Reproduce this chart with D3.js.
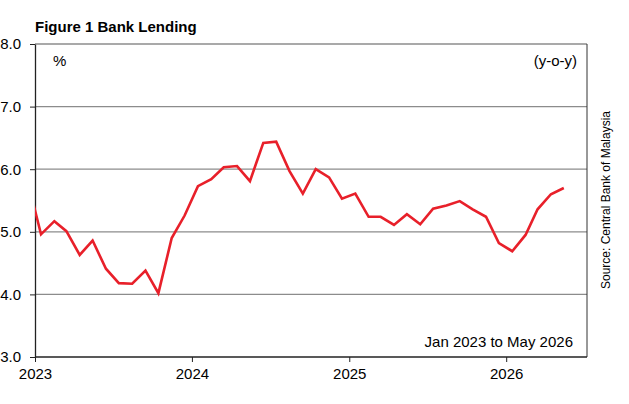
<!DOCTYPE html>
<html lang="en">
<head>
  <meta charset="UTF-8">
  <script src="https://d3js.org/d3.v7.min.js"></script>
  <style>
    body { margin: 0; background: #fff; font-family: "Liberation Sans", Arial, sans-serif; }
  </style>
</head>
<body>
  <svg width="629" height="404"></svg>
  <script>
    // monthly y-o-y growth, Dec 2022 .. May 2026 (plotted mid-month)
    const startMonth = new Date(2022, 11, 1);
    const values = [
      5.81,
      4.96, 5.17, 5.01, 4.63, 4.86, 4.41, 4.18, 4.17, 4.38, 4.02, 4.90, 5.26,
      5.73, 5.84, 6.03, 6.05, 5.81, 6.42, 6.44, 5.97, 5.61, 6.00, 5.87, 5.53,
      5.61, 5.24, 5.24, 5.11, 5.28, 5.12, 5.37, 5.42, 5.49, 5.36, 5.24, 4.82,
      4.69, 4.95, 5.36, 5.60, 5.70
    ];
    const yTicks = [3, 4, 5, 6, 7, 8];
    const yearTicks = [2023, 2024, 2025, 2026];

    const svg = d3.select("svg");
    const plotL = 35, plotR = 587, plotT = 44, plotB = 357;

    const x = d3.scaleTime()
      .domain([new Date(2023, 0, 1), new Date(2026, 8, 1)])
      .range([plotL, plotL + 157 * (44 / 12)]);
    const y = d3.scaleLinear().domain([3, 8]).range([plotB, plotT]);

    const data = values.map((v, i) => ({
      date: new Date(startMonth.getFullYear(), startMonth.getMonth() + i, 15),
      value: v
    }));

    svg.append("clipPath").attr("id", "clip")
      .append("rect").attr("x", plotL).attr("y", plotT - 5)
      .attr("width", plotR - plotL).attr("height", plotB - plotT + 10);

    // gridlines
    svg.selectAll(".grid").data(yTicks.filter(d => d > 3)).join("line")
      .attr("x1", plotL).attr("x2", plotR)
      .attr("y1", d => y(d)).attr("y2", d => y(d))
      .attr("stroke", "#8c8c8c").attr("stroke-width", 1.3);

    // right border
    svg.append("line").attr("x1", plotR).attr("x2", plotR)
      .attr("y1", plotT).attr("y2", plotB).attr("stroke", "#333").attr("stroke-width", 1);

    // left axis
    const yAxis = svg.append("g").attr("transform", `translate(${plotL},0)`)
      .call(d3.axisLeft(y).tickValues(yTicks).tickSize(5).tickSizeOuter(0));
    yAxis.select(".domain").attr("stroke", "#222").attr("stroke-width", 1.3);
    yAxis.selectAll(".tick line").attr("stroke", "#222");
    yAxis.selectAll("text").attr("font-size", 15).attr("fill", "#000")
      .attr("font-family", "Liberation Sans, Arial").attr("x", -14);

    // bottom axis
    const xAxis = svg.append("g").attr("transform", `translate(0,${plotB})`)
      .call(d3.axisBottom(x).tickValues(yearTicks.map(yr => new Date(yr, 0, 1)))
        .tickFormat(d3.timeFormat("%Y")).tickSize(5).tickSizeOuter(0));
    xAxis.select(".domain").attr("stroke", "#222").attr("stroke-width", 1.3)
      .attr("d", `M${plotL},0H${plotR}`);
    xAxis.selectAll(".tick line").attr("stroke", "#222");
    xAxis.selectAll("text").attr("font-size", 15).attr("fill", "#000")
      .attr("font-family", "Liberation Sans, Arial").attr("dy", "0.9em");

    // line
    svg.append("path").datum(data)
      .attr("clip-path", "url(#clip)")
      .attr("fill", "none").attr("stroke", "#e8202a").attr("stroke-width", 2.6)
      .attr("d", d3.line().x(d => x(d.date)).y(d => y(d.value)));

    // texts
    svg.append("text").attr("x", 35).attr("y", 32)
      .attr("font-size", 15).attr("font-weight", "bold").text("Figure 1 Bank Lending");
    svg.append("text").attr("x", 53).attr("y", 66).attr("font-size", 15).text("%");
    svg.append("text").attr("x", 577).attr("y", 66).attr("text-anchor", "end")
      .attr("font-size", 15).text("(y-o-y)");
    svg.append("text").attr("x", 573).attr("y", 347).attr("text-anchor", "end")
      .attr("font-size", 15).text("Jan 2023 to May 2026");
    svg.append("text").attr("transform", "translate(610,200) rotate(-90)")
      .attr("text-anchor", "middle").attr("font-size", 12)
      .text("Source: Central Bank of Malaysia");
  </script>
</body>
</html>
